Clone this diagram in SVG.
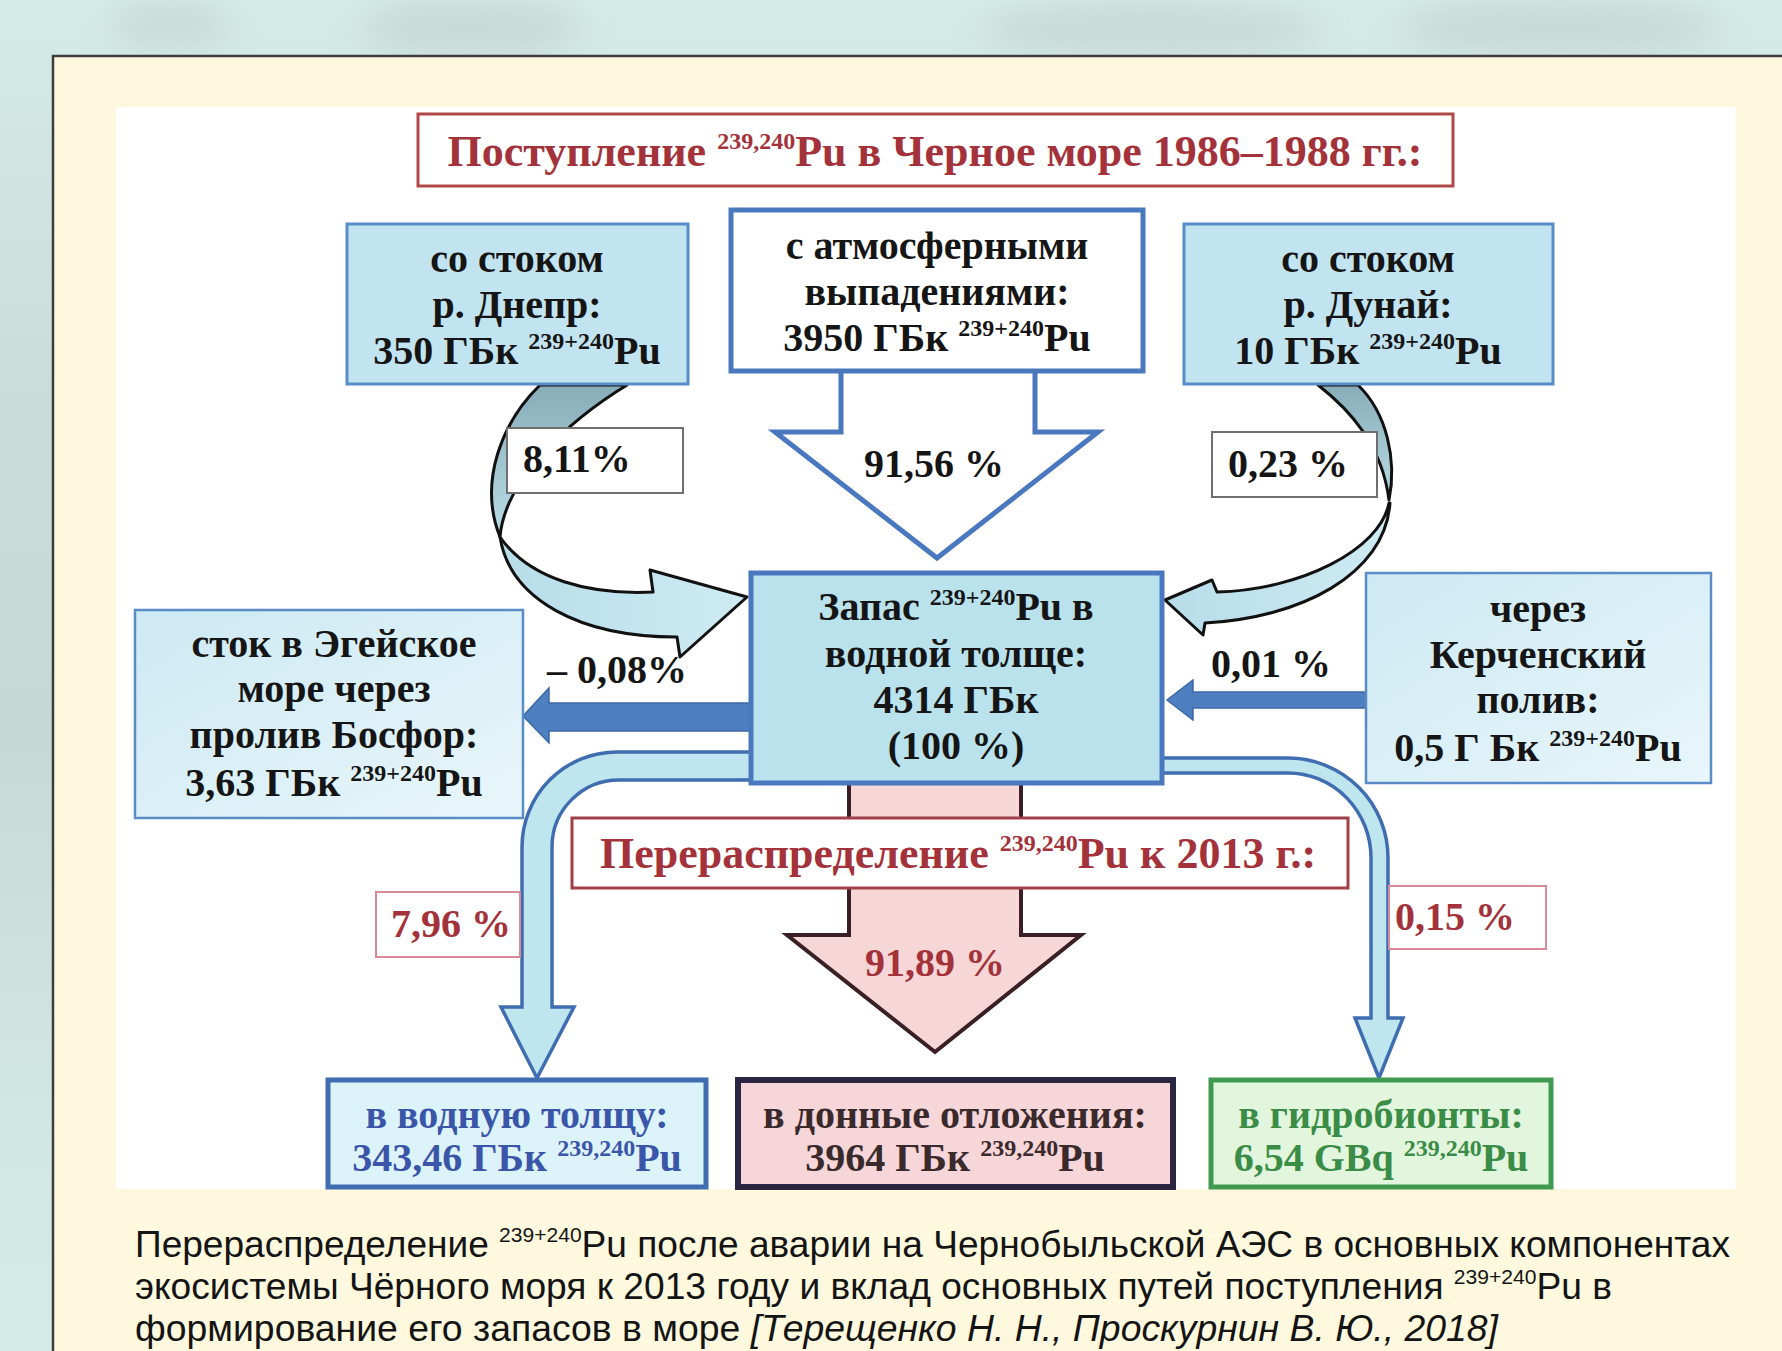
<svg xmlns="http://www.w3.org/2000/svg" width="1782" height="1351" viewBox="0 0 1782 1351">
<defs>
<style>
.t{font-family:"Liberation Serif","Times New Roman",serif;font-weight:bold;font-size:40px;text-anchor:middle;fill:#151515}
.ttl{font-size:44px;fill:#a3323a}
.red{fill:#a3323a}
.blu{fill:#3b56a8}
.grn{fill:#3a8c47}
.drk{fill:#3a2a2c}
.s{font-size:24px}
.cap{font-family:"Liberation Sans",Arial,sans-serif;font-size:37px;fill:#141414}
.cs{font-size:21px}
.box{stroke-width:3}
</style>
<linearGradient id="gBack" x1="0" y1="0" x2="0" y2="1">
<stop offset="0" stop-color="#88adb8"/><stop offset="1" stop-color="#b9dde7"/>
</linearGradient>
<linearGradient id="gFront" x1="0" y1="0" x2="1" y2="0">
<stop offset="0" stop-color="#b7dde9"/><stop offset="1" stop-color="#cfebf3"/>
</linearGradient>
<linearGradient id="gSide" x1="0" y1="0" x2="1" y2="1">
<stop offset="0" stop-color="#cde9f3"/><stop offset="1" stop-color="#e8f6fa"/>
</linearGradient>
<linearGradient id="gLeft" x1="0" y1="0" x2="0" y2="1">
<stop offset="0" stop-color="#d4ebe8"/><stop offset="0.3" stop-color="#c9dcda"/><stop offset="0.55" stop-color="#c6d9d7"/><stop offset="0.8" stop-color="#d0e6e3"/><stop offset="1" stop-color="#d4ebe8"/>
</linearGradient>
<filter id="blur" x="-30%" y="-30%" width="160%" height="160%"><feGaussianBlur stdDeviation="16"/></filter>
</defs>

<g id="background">
<rect width="1782" height="1351" fill="url(#gLeft)"/>
<g filter="url(#blur)" fill="#c3d5d3" opacity="0.8">
<ellipse cx="470" cy="28" rx="110" ry="28"/>
<ellipse cx="1150" cy="30" rx="170" ry="26"/>
<ellipse cx="1560" cy="28" rx="160" ry="28"/>
<ellipse cx="170" cy="25" rx="60" ry="20"/>
</g>
<rect x="53" y="56" width="1740" height="1300" fill="#fef9de" stroke="#3d3d3d" stroke-width="2.5"/>
<rect x="116" y="107" width="1620" height="1082" fill="#ffffff"/>
</g>

<g id="connectors">
<polygon id="arrow-atm" points="841,368 841,432 775,432 937,558 1098,432 1035,432 1035,368" fill="#ffffff" stroke="#4a78bf" stroke-width="5" stroke-linejoin="miter"/>
<polygon id="arrow-sed" points="849,780 849,935 787,935 935,1052 1081,935 1021,935 1021,780" fill="#f6d6d6" stroke="#3a1f25" stroke-width="4"/>
<g id="arrow-dnepr" stroke="#111" stroke-width="3" stroke-linejoin="round">
<path d="M540,385 C502,422 478,482 500,537 C505,478 570,420 627,385 Z" fill="url(#gBack)"/>
<path d="M500,537 C510,600 580,637 677,637 L680,657 L747,597 L650,570 L653,592 C590,595 530,580 500,537 Z" fill="url(#gFront)"/>
</g>
<g id="arrow-danube" stroke="#111" stroke-width="3" stroke-linejoin="round">
<path d="M1318,385 C1350,410 1382,445 1389,500 C1397,460 1387,413 1358,385 Z" fill="url(#gBack)"/>
<path d="M1389,503 C1380,550 1300,590 1217,592 L1212,580 L1165,600 L1203,635 L1205,623 C1300,618 1385,575 1390,503 Z" fill="url(#gFront)"/>
</g>
<polygon id="arrow-bosphorus" points="751,703 549,703 549,688 523,716 549,743 549,731 751,731" fill="#4e7fc0" stroke="#3d68a8" stroke-width="1.5"/>
<polygon id="arrow-kerch" points="1366,692 1193,692 1193,680 1167,700 1193,720 1193,708 1366,708" fill="#4e7fc0" stroke="#3d68a8" stroke-width="1.5"/>
<path id="arrow-water" d="M751,752 L617,752 A95,95 0 0 0 522,847 L522,1007 L501,1007 L537,1078 L574,1007 L552,1007 L552,847 A67,67 0 0 1 619,780 L751,780 Z" fill="#bfe6ef" stroke="#3f6db0" stroke-width="3.5" stroke-linejoin="miter"/>
<path id="arrow-hydro" d="M1162,758 L1288,758 A100,100 0 0 1 1388,858 L1388,1018 L1403,1018 L1379,1078 L1355,1018 L1371,1018 L1371,858 A83,85 0 0 0 1288,773 L1162,773 Z" fill="#bfe6ef" stroke="#3f6db0" stroke-width="3.5"/>
</g>

<g id="title-top">
<rect x="418" y="114" width="1035" height="72" fill="#fff" stroke="#b04848" stroke-width="3"/>
<text class="t ttl" x="935" y="166">Поступление <tspan class="s" dy="-17">239,240</tspan><tspan dy="17">Pu в Черное море 1986–1988 гг.:</tspan></text>
</g>

<g id="node-dnepr">
<rect x="347" y="224" width="341" height="160" fill="#c2e4f1" stroke="#5a8cc8" class="box"/>
<text class="t" x="517" y="272">со стоком</text>
<text class="t" x="517" y="318">р. Днепр:</text>
<text class="t" x="517" y="364">350 ГБк <tspan class="s" dy="-15">239+240</tspan><tspan dy="15">Pu</tspan></text>
</g>

<g id="node-atm">
<rect x="731" y="210" width="412" height="161" fill="#fff" stroke="#4a78bf" stroke-width="5"/>
<text class="t" x="937" y="259">с атмосферными</text>
<text class="t" x="937" y="305">выпадениями:</text>
<text class="t" x="937" y="351">3950 ГБк <tspan class="s" dy="-15">239+240</tspan><tspan dy="15">Pu</tspan></text>
</g>

<g id="node-danube">
<rect x="1184" y="224" width="369" height="160" fill="#c2e4f1" stroke="#5a8cc8" class="box"/>
<text class="t" x="1368" y="272">со стоком</text>
<text class="t" x="1368" y="318">р. Дунай:</text>
<text class="t" x="1368" y="364">10 ГБк <tspan class="s" dy="-15">239+240</tspan><tspan dy="15">Pu</tspan></text>
</g>

<g id="label-811">
<rect x="507" y="428" width="176" height="65" fill="#fff" stroke="#6f6f6f" stroke-width="2"/>
<text class="t" x="523" y="472" style="text-anchor:start">8,11%</text>
</g>

<g id="label-023">
<rect x="1212" y="432" width="165" height="65" fill="#fff" stroke="#6f6f6f" stroke-width="2"/>
<text class="t" x="1288" y="477">0,23 %</text>
</g>

<g id="label-9156">
<text class="t" x="934" y="477">91,56 %</text>
</g>

<g id="node-center">
<rect x="751" y="573" width="411" height="210" fill="#b9e2ec" stroke="#4a78bf" stroke-width="5"/>
<text class="t" x="956" y="620">Запас <tspan class="s" dy="-15">239+240</tspan><tspan dy="15">Pu в</tspan></text>
<text class="t" x="956" y="667">водной толще:</text>
<text class="t" x="956" y="713">4314 ГБк</text>
<text class="t" x="956" y="759">(100 %)</text>
</g>

<g id="node-aegean">
<rect x="135" y="610" width="388" height="208" fill="url(#gSide)" stroke="#5a8cc8" stroke-width="2.5"/>
<text class="t" x="334" y="657">сток в Эгейское</text>
<text class="t" x="334" y="702">море через</text>
<text class="t" x="334" y="748">пролив Босфор:</text>
<text class="t" x="334" y="796">3,63 ГБк <tspan class="s" dy="-15">239+240</tspan><tspan dy="15">Pu</tspan></text>
</g>

<g id="label-008">
<text class="t" x="617" y="683">– 0,08%</text>
</g>

<g id="node-kerch">
<rect x="1366" y="573" width="345" height="210" fill="url(#gSide)" stroke="#5a8cc8" stroke-width="2.5"/>
<text class="t" x="1538" y="622">через</text>
<text class="t" x="1538" y="668">Керченский</text>
<text class="t" x="1538" y="713">полив:</text>
<text class="t" x="1538" y="761">0,5 Г Бк <tspan class="s" dy="-15">239+240</tspan><tspan dy="15">Pu</tspan></text>
</g>

<g id="label-001">
<text class="t" x="1271" y="677">0,01 %</text>
</g>

<g id="title-redistribution">
<rect x="572" y="818" width="776" height="70" fill="#fff" stroke="#a04048" stroke-width="3"/>
<text class="t ttl" x="958" y="868">Перераспределение <tspan class="s" dy="-17">239,240</tspan><tspan dy="17">Pu к 2013 г.:</tspan></text>
</g>

<g id="label-796">
<rect x="376" y="892" width="144" height="65" fill="#fff" stroke="#d88a98" stroke-width="2"/>
<text class="t red" x="451" y="937">7,96 %</text>
</g>

<g id="label-015">
<rect x="1389" y="886" width="157" height="63" fill="#fff" stroke="#d88a98" stroke-width="2"/>
<text class="t red" x="1455" y="930">0,15 %</text>
</g>

<g id="label-9189">
<text class="t red" x="935" y="976">91,89 %</text>
</g>

<g id="node-water">
<rect x="328" y="1080" width="378" height="107" fill="#ddf3fa" stroke="#3f6db0" stroke-width="5"/>
<text class="t blu" x="517" y="1128">в водную толщу:</text>
<text class="t blu" x="517" y="1171">343,46 ГБк <tspan class="s" dy="-15">239,240</tspan><tspan dy="15">Pu</tspan></text>
</g>

<g id="node-sediment">
<rect x="738" y="1080" width="435" height="107" fill="#f6d6d9" stroke="#2a2540" stroke-width="6"/>
<text class="t drk" x="955" y="1128">в донные отложения:</text>
<text class="t drk" x="955" y="1171">3964 ГБк <tspan class="s" dy="-15">239,240</tspan><tspan dy="15">Pu</tspan></text>
</g>

<g id="node-hydro">
<rect x="1211" y="1080" width="340" height="107" fill="#e2f6de" stroke="#3f9a4f" stroke-width="5"/>
<text class="t grn" x="1381" y="1128">в гидробионты:</text>
<text class="t grn" x="1381" y="1171">6,54 GBq <tspan class="s" dy="-15">239,240</tspan><tspan dy="15">Pu</tspan></text>
</g>

<g id="caption">
<text class="cap" x="135" y="1257" textLength="1595" lengthAdjust="spacingAndGlyphs">Перераспределение <tspan class="cs" dy="-15">239+240</tspan><tspan dy="15">Pu после аварии на Чернобыльской АЭС в основных компонентах</tspan></text>
<text class="cap" x="135" y="1299" textLength="1477" lengthAdjust="spacingAndGlyphs">экосистемы Чёрного моря к 2013 году и вклад основных путей поступления <tspan class="cs" dy="-15">239+240</tspan><tspan dy="15">Pu в</tspan></text>
<text class="cap" x="135" y="1341" textLength="1363" lengthAdjust="spacingAndGlyphs">формирование его запасов в море <tspan font-style="italic">[Терещенко Н. Н., Проскурнин В. Ю., 2018]</tspan></text>
</g>
</svg>
